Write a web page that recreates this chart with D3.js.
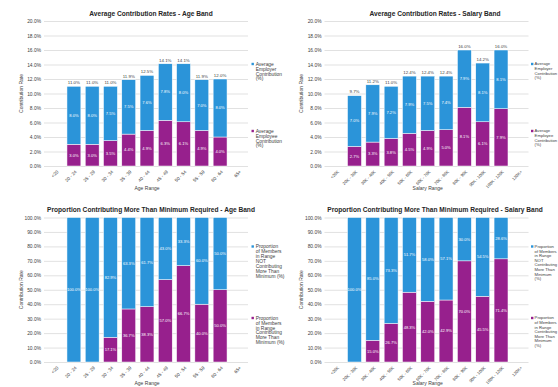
<!DOCTYPE html>
<html>
<head>
<meta charset="utf-8">
<script src="https://cdn.jsdelivr.net/npm/d3@7"></script>
<style>
  html, body { margin: 0; padding: 0; background: #fff; }
  svg { display: block; font-family: "Liberation Sans", Arial, sans-serif; }
</style>
</head>
<body>
<svg id="root" width="558" height="387"></svg>
<script>
// ---- categories ----
const ageBands = ["<20", "20 - 24", "25 - 29", "30 - 34", "35 - 39", "40 - 44",
                  "45 - 49", "50 - 54", "55 - 59", "60 - 64", "65+"];
const salaryBands = ["<20K", "20K - 30K", "30K - 40K", "40K - 50K", "50K - 60K", "60K - 70K",
                     "70K - 80K", "80K - 90K", "90K - 100K", "100K - 120K", "120K+"];

// ---- average contribution rates (%), null = no members in band ----
const ageEmployee    = [null, 3.0, 3.0, 3.5, 4.4, 4.9, 6.3, 6.1, 4.9, 4.0, null];
const ageEmployer    = [null, 8.0, 8.0, 7.5, 7.5, 7.6, 7.8, 8.0, 7.0, 8.0, null];
const salaryEmployee = [null, 2.7, 3.3, 3.8, 4.5, 4.9, 5.0, 8.1, 6.1, 7.9, null];
const salaryEmployer = [null, 7.0, 7.9, 7.2, 7.9, 7.5, 7.4, 7.9, 8.1, 8.1, null];

// ---- proportion of members contributing more than the minimum (%) ----
const ageMore    = [null, 0.0, 0.0, 17.1, 36.7, 38.3, 57.0, 66.7, 40.0, 50.0, null];
const ageNot     = [null, 100.0, 100.0, 82.9, 63.3, 61.7, 43.0, 33.3, 60.0, 50.0, null];
const salaryMore = [null, 0.0, 15.0, 26.7, 48.3, 42.0, 42.9, 70.0, 45.5, 71.4, null];
const salaryNot  = [null, 100.0, 85.0, 73.3, 51.7, 58.0, 57.1, 30.0, 54.5, 28.6, null];

// ---- axis ticks ----
const rateTicks = [0, 2, 4, 6, 8, 10, 12, 14, 16, 18, 20];
const propTicks = [0, 10, 20, 30, 40, 50, 60, 70, 80, 90, 100];

// ---- legend texts (wrapped) ----
const rateLegend = [
  ["Average", "Employer", "Contribution", "(%)"],
  ["Average", "Employee", "Contribution", "(%)"]
];
const propLegend = [
  ["Proportion", "of Members", "in Range", "NOT", "Contributing", "More Than", "Minimum (%)"],
  ["Proportion", "of Members", "in Range", "Contributing", "More Than", "Minimum (%)"]
];
// narrower wrap for the legends at the right page edge
const propLegendNarrow = [
  ["Proportion", "of Members", "in Range", "NOT", "Contributing", "More Than", "Minimum", "(%)"],
  ["Proportion", "of Members", "in Range", "Contributing", "More Than", "Minimum", "(%)"]
];

const BLUE = "#2b94d9";
const PURPLE = "#97208d";
const TEXT = "#404040";
const GRID = "#d4d4d4";

const pct = v => v.toFixed(1) + "%";

const root = d3.select("#root");

function drawPanel(p) {
  const svg = root.append("g")
    .attr("transform", `translate(${p.x},${p.y})`);

  const yMax = p.ticks[p.ticks.length - 1];
  const y = d3.scaleLinear().domain([0, yMax]).range([p.bottom, p.top]);
  const x = d3.scaleBand().domain(p.cats)
    .range([p.left, p.right])
    .paddingInner(0.24).paddingOuter(0.12);

  // gridlines + value axis
  const ya = svg.append("g")
    .attr("transform", `translate(${p.gridLeft},0)`)
    .call(d3.axisLeft(y).tickValues(p.ticks)
      .tickSize(-(p.gridRight - p.gridLeft))
      .tickPadding(3)
      .tickFormat(pct));
  ya.select(".domain").remove();
  ya.selectAll("line").attr("stroke", GRID).attr("stroke-width", 0.7);
  ya.selectAll("text").attr("font-size", 4.9).attr("fill", TEXT).attr("font-family", null);

  // category axis
  const xa = svg.append("g")
    .attr("transform", `translate(0,${p.bottom})`)
    .call(d3.axisBottom(x).tickSize(0));
  xa.select(".domain").remove();
  xa.selectAll("text")
    .attr("font-size", p.catFont).attr("fill", TEXT).attr("font-family", null)
    .attr("x", 0).attr("y", 0).attr("dy", "0.35em")
    .attr("text-anchor", "end")
    .attr("transform", `translate(2,${p.tickOff}) rotate(-45)`);

  // stacked bars
  const idx = d3.range(p.cats.length).filter(i => p.lower[i] !== null);
  const bw = x.bandwidth();

  const bars = svg.append("g");
  idx.forEach(i => {
    const cat = p.cats[i];
    const lo = p.lower[i], up = p.upper[i];
    if (lo > 0) {
      bars.append("rect")
        .attr("x", x(cat)).attr("width", bw)
        .attr("y", y(lo)).attr("height", y(0) - y(lo))
        .attr("fill", PURPLE).attr("stroke", "#fff").attr("stroke-width", 0.5);
    }
    bars.append("rect")
      .attr("x", x(cat)).attr("width", bw)
      .attr("y", y(lo + up)).attr("height", y(lo) - y(lo + up))
      .attr("fill", BLUE).attr("stroke", "#fff").attr("stroke-width", 0.5);
  });

  // segment labels
  const labels = svg.append("g")
    .attr("font-size", 4.1).attr("fill", "#fff").attr("text-anchor", "middle");
  idx.forEach(i => {
    const cx = x(p.cats[i]) + bw / 2;
    const lo = p.lower[i], up = p.upper[i];
    if (lo > 0) {
      labels.append("text").attr("x", cx).attr("y", y(lo / 2))
        .attr("dy", "0.35em").text(pct(lo));
    }
    labels.append("text").attr("x", cx).attr("y", y(lo + up / 2))
      .attr("dy", "0.35em").text(pct(up));
  });

  // totals above bars
  if (p.totals) {
    const tot = svg.append("g")
      .attr("font-size", 4.4).attr("fill", TEXT).attr("text-anchor", "middle");
    idx.forEach(i => {
      const v = Math.round((p.lower[i] + p.upper[i]) * 10) / 10;
      tot.append("text")
        .attr("x", x(p.cats[i]) + bw / 2)
        .attr("y", y(v) - 2.2)
        .text(pct(v));
    });
  }

  // title
  svg.append("text")
    .attr("x", p.titleX).attr("y", p.titleY).attr("dy", "0.35em")
    .attr("text-anchor", "middle")
    .attr("font-size", 6.6).attr("font-weight", "bold").attr("fill", "#262626")
    .text(p.title);

  // axis titles
  svg.append("text")
    .attr("transform", `translate(${p.yTitleX},${(p.top + p.bottom) / 2}) rotate(-90)`)
    .attr("dy", "0.35em").attr("text-anchor", "middle")
    .attr("font-size", 5).attr("fill", TEXT)
    .text("Contribution Rate");
  svg.append("text")
    .attr("x", (p.left + p.right) / 2).attr("y", p.xTitleY).attr("dy", "0.35em")
    .attr("text-anchor", "middle")
    .attr("font-size", 5).attr("fill", TEXT)
    .text(p.xTitle);

  // legend (upper series first)
  const lg = svg.append("g").attr("font-size", p.legendFont).attr("fill", TEXT);
  [BLUE, PURPLE].forEach((col, k) => {
    const y0 = p.legendY[k];
    lg.append("rect")
      .attr("x", p.legendX).attr("y", y0 - 1.2)
      .attr("width", 2.4).attr("height", 2.4).attr("fill", col);
    p.legend[k].forEach((line, j) => {
      lg.append("text")
        .attr("x", p.legendX + p.legendGap).attr("y", y0 + j * p.legendPitch)
        .attr("dy", "0.35em").text(line);
    });
  });
}

const topRow = { top: 21, bottom: 166, titleY: 14, xTitleY: 188.5, tickOff: 5, legendY: [64, 131] };
const botRow = { top: 24, bottom: 168.5, titleY: 16.5, xTitleY: 190, tickOff: 5, legendY: [53, 124.5] };
const leftCol  = { left: 46.5, right: 247.5, gridLeft: 44, gridRight: 248, titleX: 151, yTitleX: 21, catFont: 4.6,
                   legendX: 251.5, legendGap: 4.2, legendFont: 4.9, legendPitch: 4.9 };
const rightCol = { left: 48, right: 249.5, gridLeft: 45.5, gridRight: 249.5, titleX: 156, yTitleX: 22, catFont: 4.2,
                   legendX: 252, legendGap: 3.6, legendFont: 4.2, legendPitch: 4.6 };

drawPanel(Object.assign({ x: 0, y: 0,
  title: "Average Contribution Rates - Age Band", cats: ageBands,
  lower: ageEmployee, upper: ageEmployer, totals: true, ticks: rateTicks,
  xTitle: "Age Range", legend: rateLegend }, topRow, leftCol));

drawPanel(Object.assign({ x: 279, y: 0,
  title: "Average Contribution Rates - Salary Band", cats: salaryBands,
  lower: salaryEmployee, upper: salaryEmployer, totals: true, ticks: rateTicks,
  xTitle: "Salary Range", legend: rateLegend }, topRow, rightCol));

drawPanel(Object.assign({ x: 0, y: 193.5,
  title: "Proportion Contributing More Than Minimum Required - Age Band", cats: ageBands,
  lower: ageMore, upper: ageNot, totals: false, ticks: propTicks,
  xTitle: "Age Range", legend: propLegend }, botRow, leftCol));

drawPanel(Object.assign({ x: 279, y: 193.5,
  title: "Proportion Contributing More Than Minimum Required - Salary Band", cats: salaryBands,
  lower: salaryMore, upper: salaryNot, totals: false, ticks: propTicks,
  xTitle: "Salary Range", legend: propLegendNarrow }, botRow, rightCol));
</script>
</body>
</html>
